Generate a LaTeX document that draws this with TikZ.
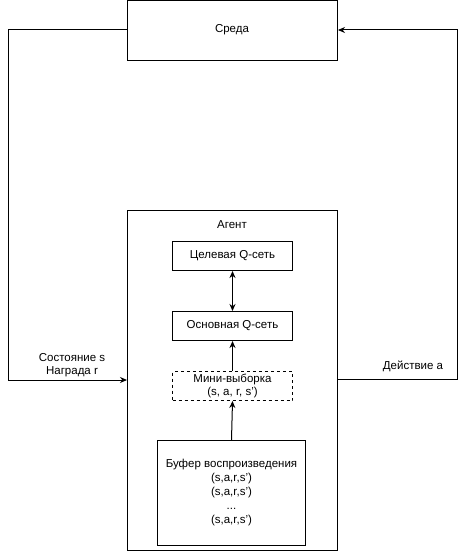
\documentclass[tikz,border=0pt]{standalone}
\usepackage{fontspec}
\setmainfont{Liberation Sans}
\usetikzlibrary{arrows.meta}
\begin{document}
\begin{tikzpicture}[x=1pt,y=-1pt,
  box/.style={draw,line width=1pt,inner sep=0pt,anchor=north west},
  lbl/.style={font=\fontsize{11.5}{13.5}\selectfont,align=center,inner sep=0pt},
  arr/.style={line width=1pt,-{Stealth[length=7pt,width=6pt]}},
  darr/.style={line width=1pt,{Stealth[length=7pt,width=6pt]}-{Stealth[length=7pt,width=6pt]}}]
\useasboundingbox (0,0) rectangle (466,551);
% environment
\node[box,minimum width=210pt,minimum height=60pt] (env) at (127,0.5) {};
\node[lbl] (envt) at (232,30) {Среда};
% agent
\node[box,minimum width=210pt,minimum height=340pt] (agent) at (127,210) {};
\node[lbl] (agentt) at (232,225) {Агент};
\node[box,minimum width=120pt,minimum height=29pt] (target) at (172,241) {};
\node[lbl] at (target.center) {Целевая Q-сеть};
\node[box,minimum width=120pt,minimum height=29pt] (main) at (172,311) {};
\node[lbl] at (main.center) {Основная Q-сеть};
\node[box,dashed,dash pattern=on 3pt off 3pt,minimum width=120pt,minimum height=29pt] (mini) at (172,371) {};
\node[lbl] at (mini.center) {Мини-выборка\\(s, a, r, s')};
\node[box,minimum width=148pt,minimum height=105pt] (buf) at (157,440) {};
\node[lbl,font=\fontsize{11.5}{14}\selectfont] at (buf.center) {Буфер воспроизведения\\(s,a,r,s')\\(s,a,r,s')\\...\\(s,a,r,s')};
% internal arrows
\draw[darr] (target.south) -- (main.north);
\draw[arr] (mini.north) -- (main.south);
\draw[arr] (buf.north) -- (mini.south);
% outer loop
\coordinate (l1) at (8,30);
\coordinate (l2) at (8,380);
\coordinate (r1) at (457,379);
\coordinate (r2) at (457,30);
\draw[arr] (env.west |- l1) -- (l1) -- (l2) -- (agent.west |- l2);
\draw[arr] (agent.east |- r1) -- (r1) -- (r2) -- (env.east |- r2);
\node[lbl] (lt) at (72,365) {Состояние s\\Награда r};
\node[lbl] (rt) at (413,366) {Действие a};
\end{tikzpicture}
\end{document}
